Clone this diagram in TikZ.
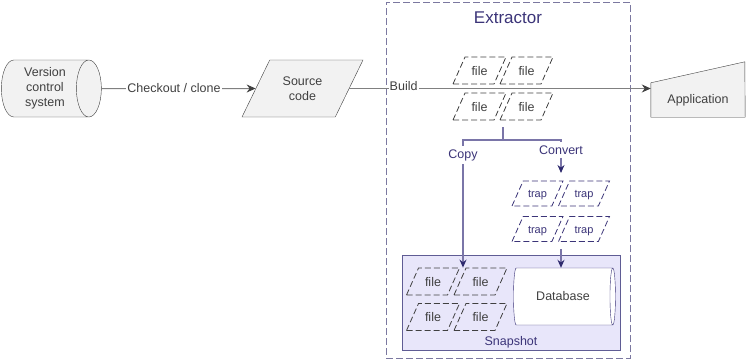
\documentclass[tikz,border=0pt]{standalone}
\usepackage{fontspec}
\setmainfont{Liberation Sans}
\usetikzlibrary{arrows.meta,shapes.geometric,backgrounds}
\definecolor{lightfill}{HTML}{F2F2F2}
\definecolor{darkline}{HTML}{404040}
\definecolor{flowgray}{HTML}{808080}
\definecolor{boxpurple}{HTML}{7B78A0}
\definecolor{linepurple}{HTML}{7A75A8}
\definecolor{tippurple}{HTML}{2E2A6E}
\definecolor{textpurple}{HTML}{3B3478}
\definecolor{snapfill}{HTML}{E8E6FA}
\definecolor{snapline}{HTML}{5F5C94}

\begin{document}
\begin{tikzpicture}[x=1pt,y=-1pt,
  every node/.style={font=\fontsize{12.5pt}{15pt}\selectfont, text=darkline},
  grayshape/.style={draw=darkline, fill=lightfill},
  store/.style={cylinder, shape aspect=0.6, minimum height=100pt, minimum width=57pt, inner sep=0pt, align=center},
  paper/.style={trapezium, trapezium left angle=66, trapezium right angle=114, trapezium stretches body, inner xsep=0pt, inner ysep=9pt, text height=9pt, text depth=0pt, minimum height=27pt, minimum width=53pt, line width=0.8pt, dash pattern=on 6pt off 3pt},
  filepaper/.style={paper, draw=darkline},
  trappaper/.style={paper, draw=textpurple, inner ysep=8.5pt, text height=8pt, minimum height=25pt, minimum width=51pt, font=\fontsize{11pt}{13pt}\selectfont, text=textpurple},
  labeltext/.style={text=textpurple},
  tag/.style={fill=white, inner sep=1pt},
  flow/.style={draw=flowgray, line width=1pt, -{Stealth[length=9pt, width=8pt, color=darkline]}},
  link/.style={draw=linepurple, line width=1.2pt},
  pflow/.style={link, -{Stealth[length=8pt, width=7pt, color=tippurple]}}]
\useasboundingbox (0,0) rectangle (748,362);
\node[draw=boxpurple, line width=0.8pt, dash pattern=on 7pt off 3pt, minimum width=244pt, minimum height=356pt, label={[labeltext, anchor=north, yshift=-7pt, font=\fontsize{17pt}{20pt}\selectfont]north:Extractor}] (extractor) at (508,180) {};
\node[draw=snapline, fill=snapfill, line width=1pt, minimum width=218pt, minimum height=95pt, label={[labeltext, anchor=south, inner sep=2pt]south:Snapshot}] (snapshot) at (511,302.5) {};

\node[store, grayshape] (vcs) at (45,88.5) {Version\\control\\system};
\node[trapezium, trapezium left angle=64, trapezium right angle=116, trapezium stretches body, grayshape, minimum width=121pt, minimum height=57pt, inner xsep=0pt, inner ysep=16.5pt, align=center] (source) at (302.5,88.5) {Source\\code};
\node[minimum width=94pt, minimum height=34pt, inner sep=0pt] (app) at (698,100) {Application};
\begin{scope}[on background layer]
\filldraw[grayshape] (app.south west) -- (app.north west) -- ++(94,-21) -- (app.south east) -- cycle;
\end{scope}

\node[filepaper] (file1) at (479.5,70.5) {file};
\node[filepaper] (file2) at (526.5,70.5) {file};
\node[filepaper] (file3) at (479.5,106.5) {file};
\node[filepaper] (file4) at (526.5,106.5) {file};

\node[trappaper] (trap1) at (537.5,193.5) {trap};
\node[trappaper] (trap2) at (584,193.5) {trap};
\node[trappaper] (trap3) at (537.5,229) {trap};
\node[trappaper] (trap4) at (584,229) {trap};

\node[filepaper] (shot1) at (433,281.5) {file};
\node[filepaper] (shot2) at (480.5,281.5) {file};
\node[filepaper] (shot3) at (433,317) {file};
\node[filepaper] (shot4) at (480.5,317) {file};
\node[store, draw=textpurple, fill=white, minimum height=102pt] (db) at (563,296.5) {Database};

\node[labeltext] (copy) at (463,155) {Copy};
\node[labeltext] (convert) at (561,150) {Convert};
\coordinate (forktop) at (503,127);
\coordinate (fork) at (503,140);
\coordinate (trapin) at (561,173);
\coordinate (trapout) at (561,249);

\draw[flow] (vcs.east) -- node[tag, pos=0.47] {Checkout / clone} (source.west);
\draw[flow] (source.east) -- node[tag, pos=0.18, yshift=2pt] {Build} (app.west |- source.east);
\draw[link] (forktop) -- (fork);
\draw[link] (copy.north) |- (fork) -| (convert.north);
\draw[pflow] (copy.south) -- (copy.south |- shot2.north);
\draw[pflow] (convert.south) -- (trapin);
\draw[pflow] (trapout) -- (trapout |- db.north);
\end{tikzpicture}
\end{document}
